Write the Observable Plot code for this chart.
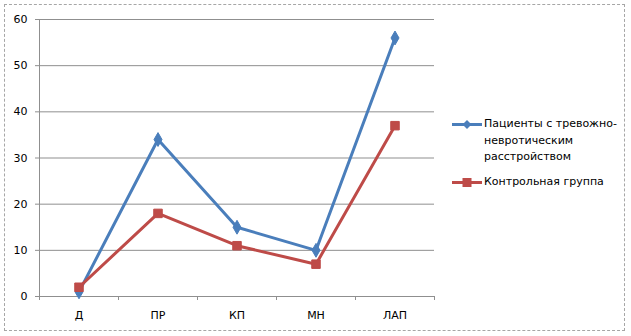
<!DOCTYPE html>
<html>
<head>
<meta charset="utf-8">
<script src="https://cdn.jsdelivr.net/npm/d3@7"></script>
<script src="https://cdn.jsdelivr.net/npm/@observablehq/plot@0.6"></script>
<style>
  html, body { margin: 0; padding: 0; background: #fff; }
  #wrap { position: relative; width: 631px; height: 336px; font-family: "DejaVu Sans", sans-serif; }
  #frame { position: absolute; left: 4px; top: 4px; width: 621px; height: 327px; border: 1px dashed #a6a6a6; box-sizing: border-box; pointer-events: none; }
  #legend { position: absolute; left: 452px; top: 116px; font-size: 11px; color: #000; }
  .item { display: flex; align-items: flex-start; margin-bottom: 8px; }
  .item svg { flex: none; margin-right: 2px; }
  .item div { line-height: 16.5px; }
</style>
</head>
<body>
<div id="wrap">
  <div id="chart"></div>
  <div id="frame"></div>
  <div id="legend"></div>
</div>
<script>
const categories = ["Д", "ПР", "КП", "МН", "ЛАП"];
const patients = [1, 34, 15, 10, 56];
const control = [2, 18, 11, 7, 37];
const seriesNames = ["Пациенты с тревожно-невротическим расстройством", "Контрольная группа"];
const legendLines = [["Пациенты с тревожно-", "невротическим", "расстройством"], ["Контрольная группа"]];
const yTicks = [0, 10, 20, 30, 40, 50, 60];
const colors = ["#4a7ebb", "#be4b48"];

const rows = [];
categories.forEach((c, i) => rows.push({cat: c, idx: i + 0.5, value: patients[i], series: seriesNames[0]}));
categories.forEach((c, i) => rows.push({cat: c, idx: i + 0.5, value: control[i], series: seriesNames[1]}));
const catRows = categories.map((c, i) => ({cat: c, idx: i + 0.5}));
const bounds = d3.range(categories.length + 1);

const chart = Plot.plot({
  width: 631,
  height: 336,
  marginLeft: 39,
  marginRight: 197,
  marginTop: 19,
  marginBottom: 40,
  style: {fontFamily: "DejaVu Sans, sans-serif", fontSize: "11px", color: "#000", background: "transparent", overflow: "visible"},
  x: {type: "linear", domain: [0, categories.length], axis: null},
  y: {type: "linear", domain: [0, 60], axis: null},
  color: {domain: seriesNames, range: colors},
  marks: [
    Plot.ruleY(yTicks.filter(d => d > 0), {stroke: "#8f8f8f", strokeWidth: 1}),
    Plot.ruleY([0], {stroke: "#8f8f8f", strokeWidth: 1}),
    Plot.ruleX([0], {stroke: "#8f8f8f", strokeWidth: 1}),
    Plot.text(yTicks, {y: d => d, x: 0, dx: -12, text: d => String(d), textAnchor: "end", fill: "#000"}),
    Plot.text(catRows, {x: "idx", y: 0, text: "cat", dy: 19, fill: "#000"}),
    Plot.line(rows, {x: "idx", y: "value", z: "series", stroke: "series", strokeWidth: 3}),
    Plot.dot(rows.filter(d => d.series === seriesNames[0]), {x: "idx", y: "value", symbol: "diamond", r: 4.2, fill: colors[0], stroke: colors[0], strokeWidth: 1}),
    Plot.dot(rows.filter(d => d.series === seriesNames[1]), {x: "idx", y: "value", symbol: "square", r: 4.8, fill: colors[1], stroke: colors[1], strokeWidth: 1})
  ]
});
document.getElementById("chart").appendChild(chart);

// small tick marks, positioned with the chart's own scales
const xs = chart.scale("x");
const ys = chart.scale("y");
const svg = d3.select(chart);
const ticks = svg.insert("g", ":first-child").attr("stroke", "#8f8f8f");
ticks.selectAll("line.xt").data(bounds).join("line").attr("class", "xt")
  .attr("x1", d => xs.apply(d) + 0.5).attr("x2", d => xs.apply(d) + 0.5)
  .attr("y1", ys.apply(0)).attr("y2", ys.apply(0) + 4);
ticks.selectAll("line.yt").data(yTicks).join("line").attr("class", "yt")
  .attr("x1", xs.apply(0) - 4).attr("x2", xs.apply(0))
  .attr("y1", d => ys.apply(d) + 0.5).attr("y2", d => ys.apply(d) + 0.5);

// legend
const legend = document.getElementById("legend");
legendLines.forEach((lines, i) => {
  const item = document.createElement("div");
  item.className = "item";
  const marker = i === 0
    ? `<polygon points="15,4 19.5,8.5 15,13 10.5,8.5" fill="${colors[0]}"/>`
    : `<rect x="10.5" y="4" width="9" height="9" fill="${colors[1]}"/>`;
  item.innerHTML = `<svg width="30" height="16"><line x1="0" x2="30" y1="8.5" y2="8.5" stroke="${colors[i]}" stroke-width="3"/>${marker}</svg><div>${lines.join("<br>")}</div>`;
  legend.appendChild(item);
});
</script>
</body>
</html>
